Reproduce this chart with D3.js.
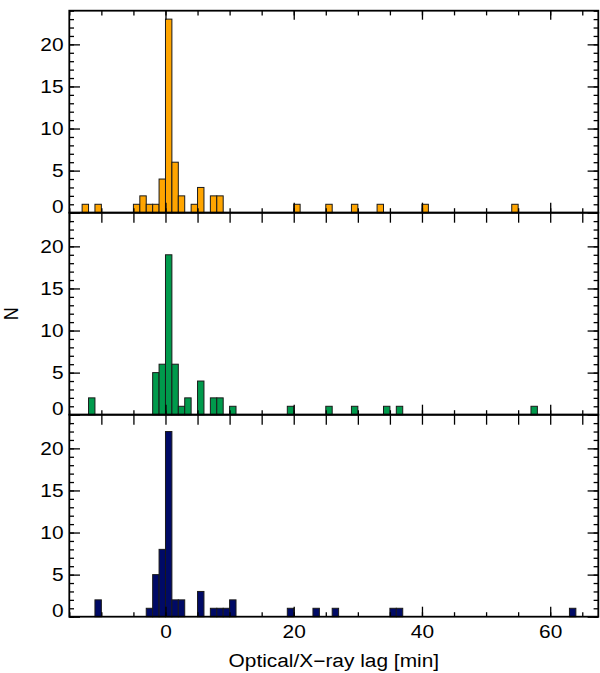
<!DOCTYPE html>
<html>
<head>
<meta charset="utf-8">
<script src="https://cdn.jsdelivr.net/npm/d3@7"></script>
<style>
  html, body { margin: 0; padding: 0; background: #fff; }
  svg text { font-family: "Liberation Sans", Arial, Helvetica, sans-serif; }
</style>
</head>
<body>
<svg id="chart" width="600" height="673"></svg>
<script>
// ---- data (bin left edge in minutes, bin width 1 min) ----
const binWidth = 1;
const orangeBins  = [-13,-11,-5,-4,-3,-2,-1,0,1,2,4,5,7,8,20,25,29,33,40,54];
const orangeCounts = [1,1,1,2,1,1,4,23,6,2,1,3,2,2,1,1,1,1,1,1];
const greenBins   = [-12,-2,-1,0,1,2,3,5,7,8,10,19,25,29,34,36,57];
const greenCounts = [2,5,6,19,6,1,2,4,2,2,1,1,1,1,1,1,1];
const navyBins    = [-11,-3,-2,-1,0,1,2,5,7,8,9,10,19,23,26,35,36,63];
const navyCounts  = [2,1,5,8,22,2,2,3,1,1,1,2,1,1,1,1,1,1];
const yTickLabels = [0,5,10,15,20];
const xTickLabels = [0,20,40,60];
const xLabel = "Optical/X\u2212ray lag [min]";
const yLabel = "N";

const panels = [
  {bins: orangeBins, counts: orangeCounts, color: "#ffa500"},
  {bins: greenBins,  counts: greenCounts,  color: "#009a4c"},
  {bins: navyBins,   counts: navyCounts,   color: "#000a66"}
];

// ---- layout ----
const mLeft = 69.3, mRight = 598.3, mTop = 10.7, panelH = 202;
const svg = d3.select("#chart");
const x = d3.scaleLinear().domain([-15, 67.5]).range([mLeft, mRight]);
const xMinor = d3.range(-15, 67.5, 5);
const yMinor = d3.range(0, 25, 1);
const fontSize = 18;
const sx = 1.16; // horizontal stretch of the glyphs

panels.forEach((p, i) => {
  const y0 = mTop + i * panelH;
  const y = d3.scaleLinear().domain([0, 24]).range([y0 + panelH, y0]);
  const g = svg.append("g");

  // bars
  g.selectAll("rect.bar")
    .data(p.bins.map((b, k) => ({b, c: p.counts[k]})))
    .join("rect")
    .attr("class", "bar")
    .attr("x", d => x(d.b))
    .attr("width", d => x(d.b + binWidth) - x(d.b))
    .attr("y", d => y(d.c))
    .attr("height", d => y(0) - y(d.c))
    .attr("fill", p.color)
    .attr("stroke", "#1a1a1a")
    .attr("stroke-width", 1);

  const tickStyle = sel => {
    sel.select(".domain").remove();
    sel.selectAll("line").attr("stroke", "#000").attr("stroke-width", 1.3);
  };

  // bottom axis ticks (inward)
  g.append("g").attr("transform", `translate(0,${y(0)})`)
    .call(d3.axisBottom(x).tickValues(xMinor).tickSize(-4.5).tickFormat(""))
    .call(tickStyle);
  g.append("g").attr("transform", `translate(0,${y(0)})`)
    .call(d3.axisBottom(x).tickValues(xTickLabels).tickSize(-10).tickFormat(""))
    .call(tickStyle);

  // top axis ticks (inward)
  if (i === 0) {
    g.append("g").attr("transform", `translate(0,${y0})`)
      .call(d3.axisTop(x).tickValues(xMinor).tickSize(-4.7).tickFormat(""))
      .call(tickStyle);
    g.append("g").attr("transform", `translate(0,${y0})`)
      .call(d3.axisTop(x).tickValues(xTickLabels).tickSize(-9).tickFormat(""))
      .call(tickStyle);
  } else {
    g.append("g").attr("transform", `translate(0,${y0})`)
      .call(d3.axisTop(x).tickValues(xMinor).tickSize(-10).tickFormat(""))
      .call(tickStyle);
  }

  // left / right y ticks (inward)
  const yMaj = d3.range(0, 25, 5);
  g.append("g").attr("transform", `translate(${mLeft},0)`)
    .call(d3.axisLeft(y).tickValues(yMinor).tickSize(-4.7).tickFormat(""))
    .call(tickStyle);
  g.append("g").attr("transform", `translate(${mLeft},0)`)
    .call(d3.axisLeft(y).tickValues(yMaj).tickSize(-10.7).tickFormat(""))
    .call(tickStyle);
  g.append("g").attr("transform", `translate(${mRight},0)`)
    .call(d3.axisRight(y).tickValues(yMinor).tickSize(-4.7).tickFormat(""))
    .call(tickStyle);
  g.append("g").attr("transform", `translate(${mRight},0)`)
    .call(d3.axisRight(y).tickValues(yMaj).tickSize(-10.7).tickFormat(""))
    .call(tickStyle);

  // y tick labels
  const yl = g.append("g").attr("transform", `translate(${mLeft},0)`)
    .call(d3.axisLeft(y).tickValues(yTickLabels).tickSize(0).tickPadding(5).tickFormat(d3.format("d")));
  yl.select(".domain").remove();
  yl.selectAll("text")
    .attr("font-size", fontSize)
    .attr("font-family", "Liberation Sans, Arial, sans-serif")
    .attr("fill", "#000")
    .attr("transform", `scale(${sx},1)`)
    .attr("dy", d => d === 0 ? "-0.02em" : "0.35em");

  // frame
  g.append("rect")
    .attr("x", mLeft).attr("y", y0)
    .attr("width", mRight - mLeft).attr("height", panelH)
    .attr("fill", "none").attr("stroke", "#000").attr("stroke-width", 1.8);

  // x tick labels on last panel
  if (i === panels.length - 1) {
    const xl = g.append("g").attr("transform", `translate(0,${y(0)})`)
      .call(d3.axisBottom(x).tickValues(xTickLabels).tickSize(0).tickPadding(9).tickFormat(d3.format("d")));
    xl.select(".domain").remove();
    xl.selectAll("text")
      .attr("font-size", fontSize)
      .attr("font-family", "Liberation Sans, Arial, sans-serif")
      .attr("transform", `scale(${sx},1)`)
      .attr("fill", "#000");
  }
});

// axis titles
svg.append("g")
  .attr("transform", `translate(${(mLeft + mRight) / 2},667) scale(${sx},1)`)
  .append("text")
  .attr("text-anchor", "middle")
  .attr("font-size", fontSize)
  .text(xLabel);

svg.append("g")
  .attr("transform", `translate(18,${mTop + 1.5 * panelH}) rotate(-90) scale(1,${sx})`)
  .append("text")
  .attr("text-anchor", "middle")
  .attr("font-size", fontSize)
  .text(yLabel);
</script>
</body>
</html>
